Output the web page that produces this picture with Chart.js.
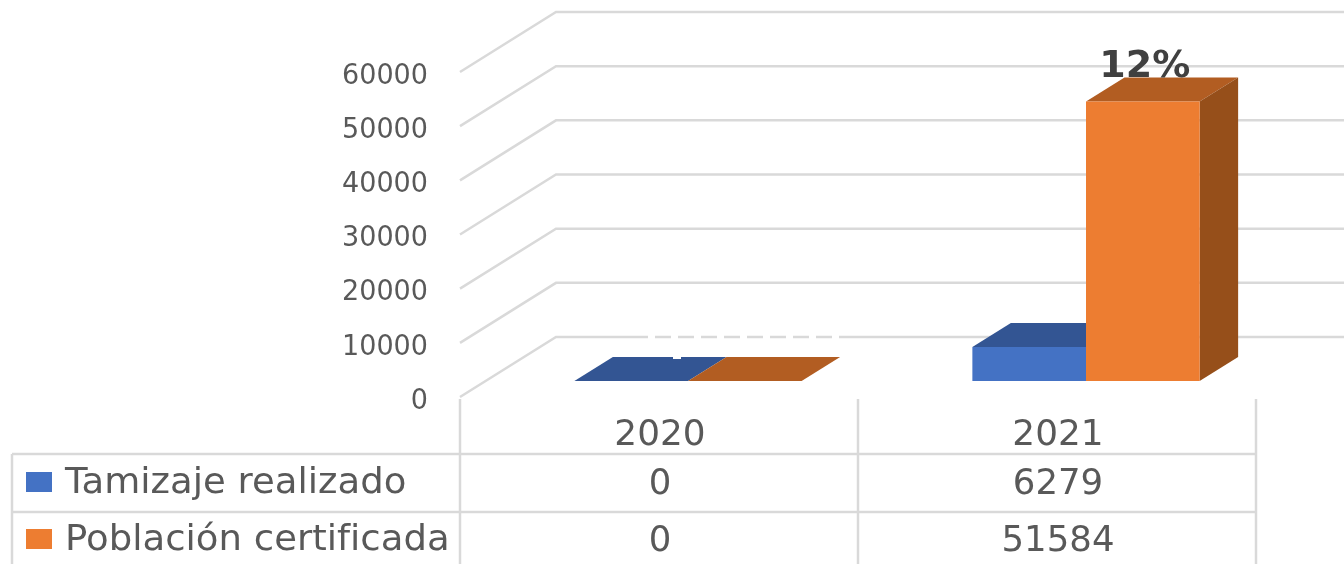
<!DOCTYPE html>
<html>
<head>
<meta charset="utf-8">
<title>Tamizaje</title>
<style>
  html, body { margin: 0; padding: 0; background: #fff; overflow: hidden; }
  canvas { display: block; filter: blur(0.5px); }
</style>
<script src="https://cdn.jsdelivr.net/npm/chart.js@4/dist/chart.umd.min.js"></script>
</head>
<body>
<canvas id="myChart" width="1344" height="564"></canvas>
<script>
const years = ['2020', '2021'];
const tamizaje = [0, 6279];
const poblacion = [0, 51584];
const seriesNames = ['Tamizaje realizado', 'Población certificada'];
const pctLabels = ['', '12%'];

const FONT = '"DejaVu Sans", sans-serif';
const GRID = '#d9d9d9';
const TEXT = '#595959';
const blue = { front: '#4472c4', top: '#335593', side: '#2a4778' };
const orange = { front: '#ed7d31', top: '#b25d22', side: '#964f1a' };
const colors = [blue, orange];

// bars sit a bit behind the front edge of the floor
const barShift = { x: 29, y: -16 };
const barDepth = { x: 38.5, y: -24 };
const wallDepth = { x: 96, y: -60 };

function poly(ctx, pts, fill) {
  ctx.fillStyle = fill;
  ctx.beginPath();
  pts.forEach((p, i) => i ? ctx.lineTo(p[0], p[1]) : ctx.moveTo(p[0], p[1]));
  ctx.closePath();
  ctx.fill();
}

function line(ctx, x1, y1, x2, y2) {
  ctx.beginPath();
  ctx.moveTo(x1, y1);
  ctx.lineTo(x2, y2);
  ctx.stroke();
}

// the reference is a picture stretched sideways, so text gets a horizontal scale
function wideText(ctx, text, x, y, sx) {
  ctx.save();
  ctx.translate(x, y);
  ctx.scale(sx, 1);
  ctx.fillText(text, 0, 0);
  ctx.restore();
}

const wallPlugin = {
  id: 'wall',
  beforeDatasetsDraw(chart) {
    const ctx = chart.ctx;
    const y = chart.scales.y;
    const left = chart.chartArea.left;
    ctx.save();
    ctx.strokeStyle = GRID;
    ctx.lineWidth = 2.5;
    y.ticks.forEach(t => {
      const py = y.getPixelForValue(t.value);
      ctx.beginPath();
      ctx.moveTo(left, py);
      ctx.lineTo(left + wallDepth.x, py + wallDepth.y);
      ctx.lineTo(chart.width, py + wallDepth.y);
      ctx.stroke();
    });
    // white label of the original washes out part of the floor line
    const py0 = y.getPixelForValue(0) + wallDepth.y;
    ctx.strokeStyle = '#fff';
    ctx.lineWidth = 4;
    ctx.setLineDash([7, 16]);
    line(ctx, 648, py0, 848, py0);
    ctx.setLineDash([]);

    // y tick labels
    ctx.font = '28px ' + FONT;
    ctx.fillStyle = TEXT;
    ctx.textAlign = 'right';
    ctx.textBaseline = 'middle';
    y.ticks.forEach(t => wideText(ctx, t.label, 428, y.getPixelForValue(t.value) + 4.5, 0.965));
    ctx.restore();

    // depth faces first, then the library draws the fronts on top
    ctx.save();
    ctx.translate(barShift.x, barShift.y);
    chart.data.datasets.forEach((ds, i) => {
      chart.getDatasetMeta(i).data.forEach(bar => {
        const l = bar.x - bar.width / 2;
        const r = bar.x + bar.width / 2;
        const dx = barDepth.x, dy = barDepth.y;
        poly(ctx, [[l, bar.y], [l + dx, bar.y + dy], [r + dx, bar.y + dy], [r, bar.y]], colors[i].top);
        if (bar.base - bar.y > 0) {
          poly(ctx, [[r, bar.y], [r + dx, bar.y + dy], [r + dx, bar.base + dy], [r, bar.base]], colors[i].side);
        }
      });
    });
    ctx.restore();

    // small notch left by the same white label
    ctx.save();
    ctx.fillStyle = '#fff';
    ctx.fillRect(673, 356, 8, 3);
    ctx.restore();

    ctx.save();
    ctx.translate(barShift.x, barShift.y);
  },
  afterDatasetsDraw(chart) {
    const ctx = chart.ctx;
    ctx.restore();

    // percentage label over the tall bar
    ctx.save();
    ctx.font = 'bold 38px ' + FONT;
    ctx.fillStyle = '#404040';
    ctx.textAlign = 'center';
    ctx.textBaseline = 'alphabetic';
    chart.getDatasetMeta(1).data.forEach((bar, i) => {
      if (pctLabels[i]) {
        wideText(ctx, pctLabels[i], bar.x + barShift.x + 2, bar.y + barShift.y + barDepth.y - 1, 1);
      }
    });
    ctx.restore();
  }
};

const tablePlugin = {
  id: 'dataTable',
  afterDraw(chart) {
    const ctx = chart.ctx;
    const x = chart.scales.x;
    const area = chart.chartArea;
    const colW = (area.right - area.left) / years.length;
    const rowTop = [454, 512];
    const rowMid = [484.5, 541.5];
    const rows = [tamizaje, poblacion];

    ctx.save();
    ctx.strokeStyle = GRID;
    ctx.lineWidth = 2.5;
    rowTop.forEach(py => line(ctx, 12, py, area.right, py));
    line(ctx, 12, 454, 12, chart.height);
    for (let i = 0; i <= years.length; i++) {
      const px = area.left + colW * i;
      line(ctx, px, area.bottom + 2, px, chart.height);
    }

    ctx.textBaseline = 'middle';
    ctx.font = '35px ' + FONT;
    ctx.letterSpacing = '0.01px'; // keeps the "fi" apart
    ctx.fillStyle = TEXT;
    ctx.textAlign = 'center';
    years.forEach((yr, i) => wideText(ctx, yr, x.getPixelForTick(i) + 1, 436, 1.024));

    rows.forEach((vals, r) => {
      ctx.fillStyle = colors[r].front;
      ctx.fillRect(26, [472, 529][r], 26, 20);
      ctx.fillStyle = TEXT;
      ctx.textAlign = 'left';
      wideText(ctx, seriesNames[r], 65, rowMid[r] - 1, 1.058);
      ctx.textAlign = 'center';
      vals.forEach((v, i) => wideText(ctx, String(v), x.getPixelForTick(i) + 1, rowMid[r], 1.015));
    });
    ctx.restore();
  }
};

new Chart(document.getElementById('myChart').getContext('2d'), {
  type: 'bar',
  data: {
    labels: years,
    datasets: [
      { label: seriesNames[0], data: tamizaje, backgroundColor: blue.front, clip: false },
      { label: seriesNames[1], data: poblacion, backgroundColor: orange.front, clip: false }
    ]
  },
  options: {
    responsive: false,
    animation: false,
    layout: { autoPadding: false, padding: { top: 72, right: 88, left: 0, bottom: 0 } },
    categoryPercentage: 0.571,
    barPercentage: 1,
    plugins: { legend: { display: false }, tooltip: { enabled: false } },
    scales: {
      y: {
        min: 0,
        max: 60000,
        afterFit(scale) { scale.width = 460; },
        grid: { display: false },
        border: { display: false },
        ticks: { display: false, stepSize: 10000, callback: v => String(v) }
      },
      x: {
        afterFit(scale) { scale.height = 167; },
        grid: { display: false },
        border: { display: false },
        ticks: { display: false }
      }
    }
  },
  plugins: [wallPlugin, tablePlugin]
});
</script>
</body>
</html>
